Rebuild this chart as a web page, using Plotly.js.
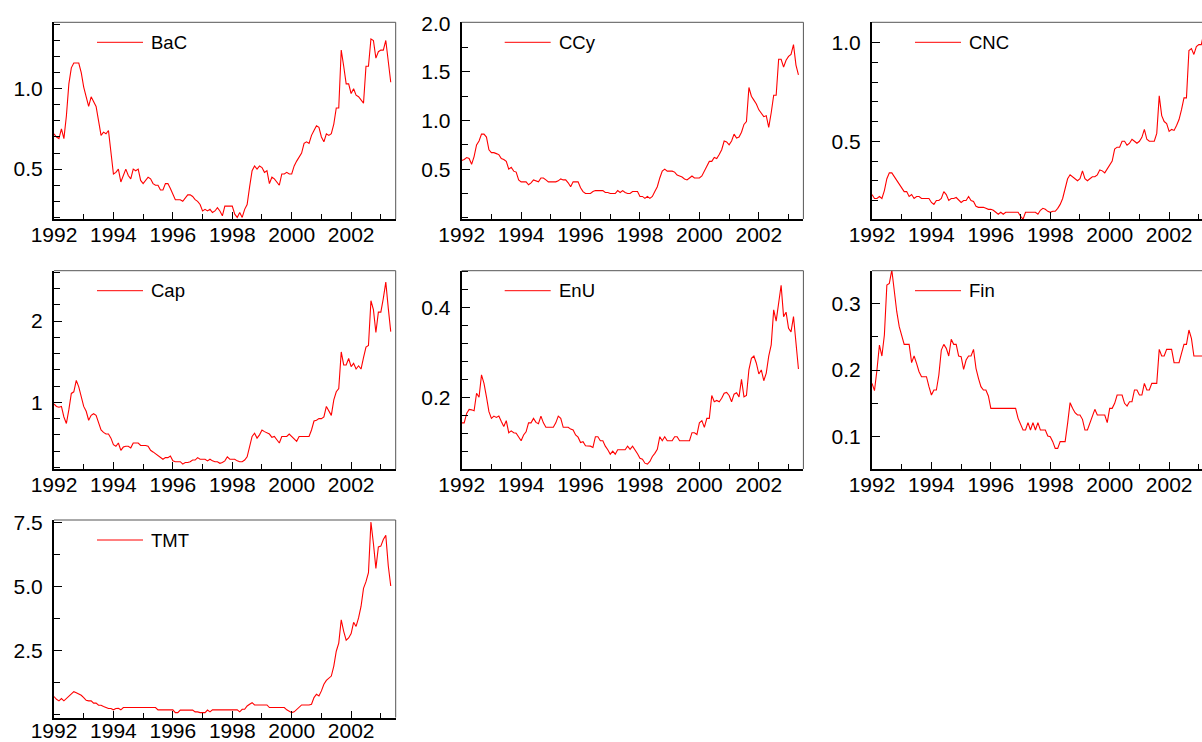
<!DOCTYPE html>
<html>
<head>
<meta charset="utf-8">
<script src="https://cdn.plot.ly/plotly-3.0.1.min.js"></script>
<style>
html,body{margin:0;padding:0;overflow:hidden;background:#fff;}
#chart{width:1240px;height:742px;}
</style>
</head>
<body>
<div id="chart"></div>
<script>
// Monthly observations, Jan 1992 .. May 2003
const startYear = 1992;
const nMonths = 137;

const seriesNames = ["BaC", "CCy", "CNC", "Cap", "EnU", "Fin", "TMT"];

const BaC = [
 0.72,0.70,0.69,0.75,0.69,0.83,1.03,1.13,1.16,1.16,1.16,1.10,
 1.01,0.95,0.89,0.95,0.92,0.89,0.80,0.71,0.73,0.72,0.74,0.62,
 0.47,0.48,0.50,0.42,0.46,0.50,0.46,0.44,0.50,0.49,0.50,0.43,
 0.41,0.43,0.45,0.44,0.41,0.40,0.40,0.37,0.37,0.41,0.41,0.38,
 0.34,0.31,0.31,0.31,0.30,0.32,0.34,0.34,0.33,0.31,0.30,0.28,
 0.24,0.25,0.24,0.25,0.23,0.24,0.26,0.24,0.21,0.27,0.27,0.27,
 0.27,0.22,0.20,0.23,0.20,0.25,0.28,0.39,0.49,0.52,0.50,0.52,
 0.51,0.48,0.49,0.41,0.45,0.44,0.42,0.40,0.47,0.47,0.48,0.47,
 0.47,0.52,0.55,0.58,0.60,0.66,0.67,0.66,0.71,0.74,0.77,0.76,
 0.70,0.67,0.72,0.71,0.72,0.78,0.88,0.88,1.24,1.14,1.03,1.03,
 0.97,1.00,0.96,0.95,0.93,0.91,1.14,1.14,1.31,1.30,1.19,1.23,
 1.24,1.24,1.30,1.15,1.04];

const CCy = [
 0.59,0.60,0.62,0.61,0.55,0.63,0.75,0.79,0.86,0.86,0.83,0.70,
 0.67,0.67,0.66,0.65,0.61,0.60,0.58,0.50,0.52,0.48,0.47,0.39,
 0.37,0.37,0.37,0.34,0.36,0.39,0.38,0.37,0.41,0.41,0.39,0.37,
 0.37,0.37,0.37,0.38,0.40,0.39,0.39,0.36,0.32,0.37,0.37,0.37,
 0.31,0.27,0.25,0.25,0.25,0.27,0.28,0.28,0.28,0.28,0.26,0.26,
 0.25,0.25,0.25,0.28,0.26,0.28,0.26,0.25,0.25,0.27,0.27,0.27,
 0.22,0.22,0.20,0.22,0.20,0.22,0.27,0.32,0.41,0.48,0.50,0.48,
 0.48,0.48,0.47,0.44,0.43,0.42,0.40,0.39,0.41,0.43,0.41,0.41,
 0.41,0.43,0.49,0.53,0.58,0.58,0.62,0.61,0.65,0.70,0.79,0.78,
 0.75,0.79,0.86,0.82,0.83,0.88,0.96,0.99,1.34,1.25,1.21,1.17,
 1.11,1.07,1.04,1.05,0.93,1.08,1.26,1.26,1.63,1.63,1.55,1.62,
 1.66,1.68,1.78,1.57,1.47];

const CNC = [
 0.23,0.21,0.21,0.22,0.21,0.25,0.31,0.34,0.34,0.32,0.30,0.28,
 0.26,0.245,0.245,0.22,0.23,0.21,0.22,0.22,0.21,0.21,0.21,0.21,
 0.19,0.18,0.20,0.20,0.21,0.245,0.23,0.20,0.21,0.21,0.215,0.20,
 0.19,0.20,0.20,0.22,0.20,0.195,0.17,0.165,0.165,0.165,0.16,0.155,
 0.155,0.15,0.14,0.13,0.14,0.13,0.14,0.14,0.14,0.14,0.14,0.14,
 0.12,0.105,0.14,0.14,0.14,0.14,0.14,0.13,0.15,0.16,0.155,0.145,
 0.14,0.145,0.145,0.16,0.18,0.21,0.26,0.31,0.33,0.32,0.31,0.30,
 0.31,0.35,0.31,0.30,0.31,0.32,0.32,0.33,0.355,0.35,0.34,0.36,
 0.38,0.40,0.46,0.47,0.47,0.50,0.50,0.48,0.49,0.51,0.50,0.49,
 0.50,0.52,0.56,0.51,0.50,0.50,0.50,0.54,0.73,0.63,0.60,0.59,
 0.55,0.56,0.555,0.58,0.61,0.66,0.72,0.72,0.96,0.97,0.94,0.98,
 0.99,0.99,1.05,1.06,1.04];

const Cap = [
 0.98,0.95,0.94,0.95,0.82,0.74,0.91,1.11,1.13,1.27,1.19,1.07,
 0.95,0.89,0.78,0.84,0.86,0.84,0.74,0.66,0.63,0.61,0.61,0.56,
 0.48,0.46,0.50,0.41,0.45,0.46,0.46,0.44,0.50,0.50,0.50,0.47,
 0.47,0.47,0.46,0.41,0.39,0.37,0.35,0.32,0.30,0.32,0.32,0.34,
 0.28,0.27,0.27,0.27,0.24,0.26,0.26,0.27,0.29,0.29,0.32,0.30,
 0.30,0.30,0.28,0.30,0.28,0.27,0.27,0.25,0.26,0.28,0.33,0.30,
 0.30,0.30,0.28,0.27,0.27,0.29,0.33,0.45,0.58,0.62,0.56,0.60,
 0.66,0.64,0.62,0.61,0.57,0.58,0.54,0.50,0.58,0.58,0.58,0.61,
 0.58,0.55,0.52,0.58,0.58,0.58,0.58,0.58,0.66,0.77,0.78,0.80,
 0.80,0.82,0.95,0.89,0.84,1.03,1.13,1.17,1.62,1.46,1.46,1.54,
 1.44,1.48,1.41,1.45,1.41,1.55,1.68,1.70,2.25,2.14,1.86,2.11,
 2.11,2.28,2.48,2.16,1.87];

const EnU = [
 0.143,0.143,0.164,0.173,0.172,0.170,0.209,0.200,0.250,0.231,0.201,0.168,
 0.153,0.158,0.155,0.158,0.146,0.135,0.148,0.121,0.125,0.121,0.120,0.112,
 0.103,0.116,0.123,0.143,0.143,0.153,0.144,0.141,0.158,0.143,0.133,0.133,
 0.133,0.133,0.143,0.158,0.153,0.133,0.133,0.133,0.129,0.127,0.116,0.111,
 0.099,0.101,0.092,0.092,0.091,0.088,0.112,0.112,0.103,0.103,0.091,0.083,
 0.073,0.080,0.073,0.083,0.083,0.083,0.083,0.091,0.084,0.091,0.083,0.074,
 0.064,0.062,0.053,0.051,0.057,0.068,0.075,0.084,0.112,0.103,0.112,0.103,
 0.103,0.103,0.112,0.112,0.103,0.103,0.103,0.103,0.103,0.121,0.121,0.117,
 0.143,0.148,0.133,0.153,0.153,0.204,0.190,0.193,0.190,0.198,0.209,0.211,
 0.204,0.190,0.207,0.210,0.201,0.240,0.201,0.204,0.262,0.287,0.292,0.276,
 0.252,0.261,0.237,0.254,0.292,0.317,0.395,0.370,0.417,0.450,0.380,0.390,
 0.354,0.346,0.380,0.317,0.263];

const Fin = [
 0.180,0.169,0.200,0.2375,0.221,0.2525,0.3275,0.330,0.350,0.315,0.2875,0.265,
 0.2525,0.2385,0.2385,0.2385,0.211,0.221,0.210,0.1975,0.190,0.190,0.190,0.175,
 0.1625,0.170,0.170,0.1925,0.230,0.2385,0.2325,0.221,0.246,0.2385,0.2385,0.221,
 0.220,0.201,0.215,0.221,0.221,0.231,0.2025,0.1875,0.175,0.170,0.170,0.161,
 0.1425,0.1425,0.1425,0.1425,0.1425,0.1425,0.1425,0.1425,0.1425,0.1425,0.1425,0.1275,
 0.1175,0.110,0.110,0.121,0.110,0.121,0.110,0.121,0.110,0.110,0.110,0.101,
 0.100,0.0925,0.0825,0.0825,0.0925,0.0925,0.0925,0.120,0.151,0.1425,0.136,0.1325,
 0.1325,0.126,0.110,0.110,0.120,0.131,0.141,0.1325,0.1325,0.1325,0.1325,0.121,
 0.1425,0.1425,0.150,0.1625,0.1625,0.1625,0.150,0.146,0.1525,0.1525,0.170,0.170,
 0.1625,0.1625,0.180,0.170,0.170,0.180,0.180,0.180,0.231,0.221,0.221,0.231,
 0.231,0.231,0.211,0.211,0.211,0.225,0.2385,0.2385,0.260,0.2475,0.221,0.221,
 0.221,0.221,0.221,0.221,0.221];

const TMT = [
 0.69,0.58,0.52,0.61,0.52,0.61,0.71,0.80,0.88,0.84,0.80,0.74,
 0.65,0.54,0.52,0.52,0.43,0.43,0.35,0.35,0.30,0.26,0.22,0.22,
 0.17,0.22,0.23,0.17,0.26,0.26,0.26,0.26,0.26,0.26,0.26,0.26,
 0.26,0.26,0.26,0.26,0.26,0.26,0.17,0.17,0.17,0.17,0.17,0.17,
 0.17,0.06,0.06,0.16,0.16,0.16,0.16,0.16,0.16,0.09,0.09,0.06,
 0.06,0.06,0.16,0.09,0.17,0.17,0.17,0.17,0.17,0.17,0.17,0.17,
 0.17,0.17,0.17,0.09,0.19,0.19,0.32,0.39,0.45,0.36,0.36,0.36,
 0.36,0.36,0.36,0.26,0.26,0.26,0.26,0.26,0.26,0.26,0.17,0.10,
 0.06,0.09,0.17,0.26,0.36,0.36,0.36,0.36,0.39,0.65,0.78,0.71,
 0.91,1.17,1.32,1.39,1.49,1.88,2.46,2.78,3.69,3.24,2.89,2.98,
 3.15,3.59,3.43,3.76,4.21,4.92,5.18,5.53,7.51,6.67,5.70,6.54,
 6.57,6.83,6.99,5.80,5.01];

const seriesValues = [BaC, CCy, CNC, Cap, EnU, Fin, TMT];

// axis settings per panel
const yRanges = [[0.19,1.413],[-0.012,2.01],[0.106,1.103],[0.18,2.62],[0.04,0.4825],[0.0515,0.349],[-0.13,7.59]];
const yMajor  = [[0.5,1.0],[0.5,1.0,1.5,2.0],[0.5,1.0],[1,2],[0.2,0.4],[0.1,0.2,0.3],[2.5,5.0,7.5]];
const yMinorStep = [0.1,0.25,0.1,0.2,0.04,0.05,1.25];
const yFormat = [".1f",".1f",".1f","d",".1f",".1f",".1f"];

const xVals = [];
for (let i = 0; i < nMonths; i++) xVals.push(startYear + i / 12);

// geometry (pixels)
const W = 1240, H = 742;
const colLeft = [54, 461.7, 872];
const panelW = 341.7;
const rowTop = [22.3, 270.7, 520];
const rowBottom = [219, 469, 717.5];
const xLabelStandoff = [-4, -4, -7];

const FONT = "Liberation Sans, Arial, sans-serif";
const TICKSIZE = 21;

const data = [];
const layout = {
  width: W, height: H,
  margin: {l:0, r:0, t:0, b:0},
  paper_bgcolor: "#ffffff",
  plot_bgcolor: "#ffffff",
  showlegend: false,
  font: {family: FONT, color: "#000", size: TICKSIZE},
  shapes: [],
  annotations: []
};

seriesNames.forEach((name, k) => {
  const row = Math.floor(k / 3), col = k % 3;
  const suf = k === 0 ? "" : String(k + 1);
  const xa = "xaxis" + suf, ya = "yaxis" + suf;
  const xr = "x" + suf, yr = "y" + suf;
  data.push({
    x: xVals, y: seriesValues[k], type: "scatter", mode: "lines",
    line: {color: "#ff0000", width: 1.1}, name: name,
    xaxis: xr, yaxis: yr, hoverinfo: "x+y"
  });
  const x0 = colLeft[col], x1 = colLeft[col] + panelW;
  layout[xa] = {
    domain: [x0 / W, x1 / W],
    anchor: yr,
    range: [1992, 2003.5],
    showgrid: false, zeroline: false,
    showline: true, linecolor: "#000", linewidth: 2,
    ticks: "inside", ticklen: 7, tickwidth: 1, tickcolor: "#000",
    tickmode: "linear", tick0: 1992, dtick: 2,
    minor: {ticks: "inside", ticklen: 5, tickwidth: 1, tickcolor: "#000", tickmode: "linear", tick0: 1992, dtick: 1},
    tickfont: {family: FONT, size: TICKSIZE, color: "#000"},
    ticklabelstandoff: xLabelStandoff[row],
    fixedrange: true
  };
  layout[ya] = {
    domain: [(H - rowBottom[row]) / H, (H - rowTop[row]) / H],
    anchor: xr,
    range: yRanges[k],
    showgrid: false, zeroline: false,
    showline: true, linecolor: "#000", linewidth: 2,
    ticks: "inside", ticklen: 8, tickwidth: 1, tickcolor: "#000",
    tickmode: "array", tickvals: yMajor[k], tickformat: yFormat[k],
    minor: {ticks: "inside", ticklen: 6, tickwidth: 1, tickcolor: "#000", tickmode: "linear", tick0: 0, dtick: yMinorStep[k]},
    tickfont: {family: FONT, size: TICKSIZE, color: "#000"},
    ticklabelstandoff: 5,
    fixedrange: true
  };
  // top and right frame lines
  layout.shapes.push({type: "line", xref: xr + " domain", yref: yr + " domain", x0: 0, x1: 1, y0: 1, y1: 1, line: {color: "#555", width: 1}});
  layout.shapes.push({type: "line", xref: xr + " domain", yref: yr + " domain", x0: 1, x1: 1, y0: 0, y1: 1, line: {color: "#555", width: 1}});
  // legend sample line + label
  const ph = rowBottom[row] - rowTop[row];
  const ly = 1 - 20 / ph;
  layout.shapes.push({type: "line", xref: xr + " domain", yref: yr + " domain", x0: 43 / panelW, x1: 89 / panelW, y0: ly, y1: ly, line: {color: "#ff0000", width: 1}});
  layout.annotations.push({xref: xr + " domain", yref: yr + " domain", x: 95 / panelW, y: ly, xanchor: "left", yanchor: "middle", text: name, showarrow: false, font: {family: FONT, size: 18.5, color: "#000"}});
});

Plotly.newPlot("chart", data, layout, {displayModeBar: false, staticPlot: true});
</script>
</body>
</html>
